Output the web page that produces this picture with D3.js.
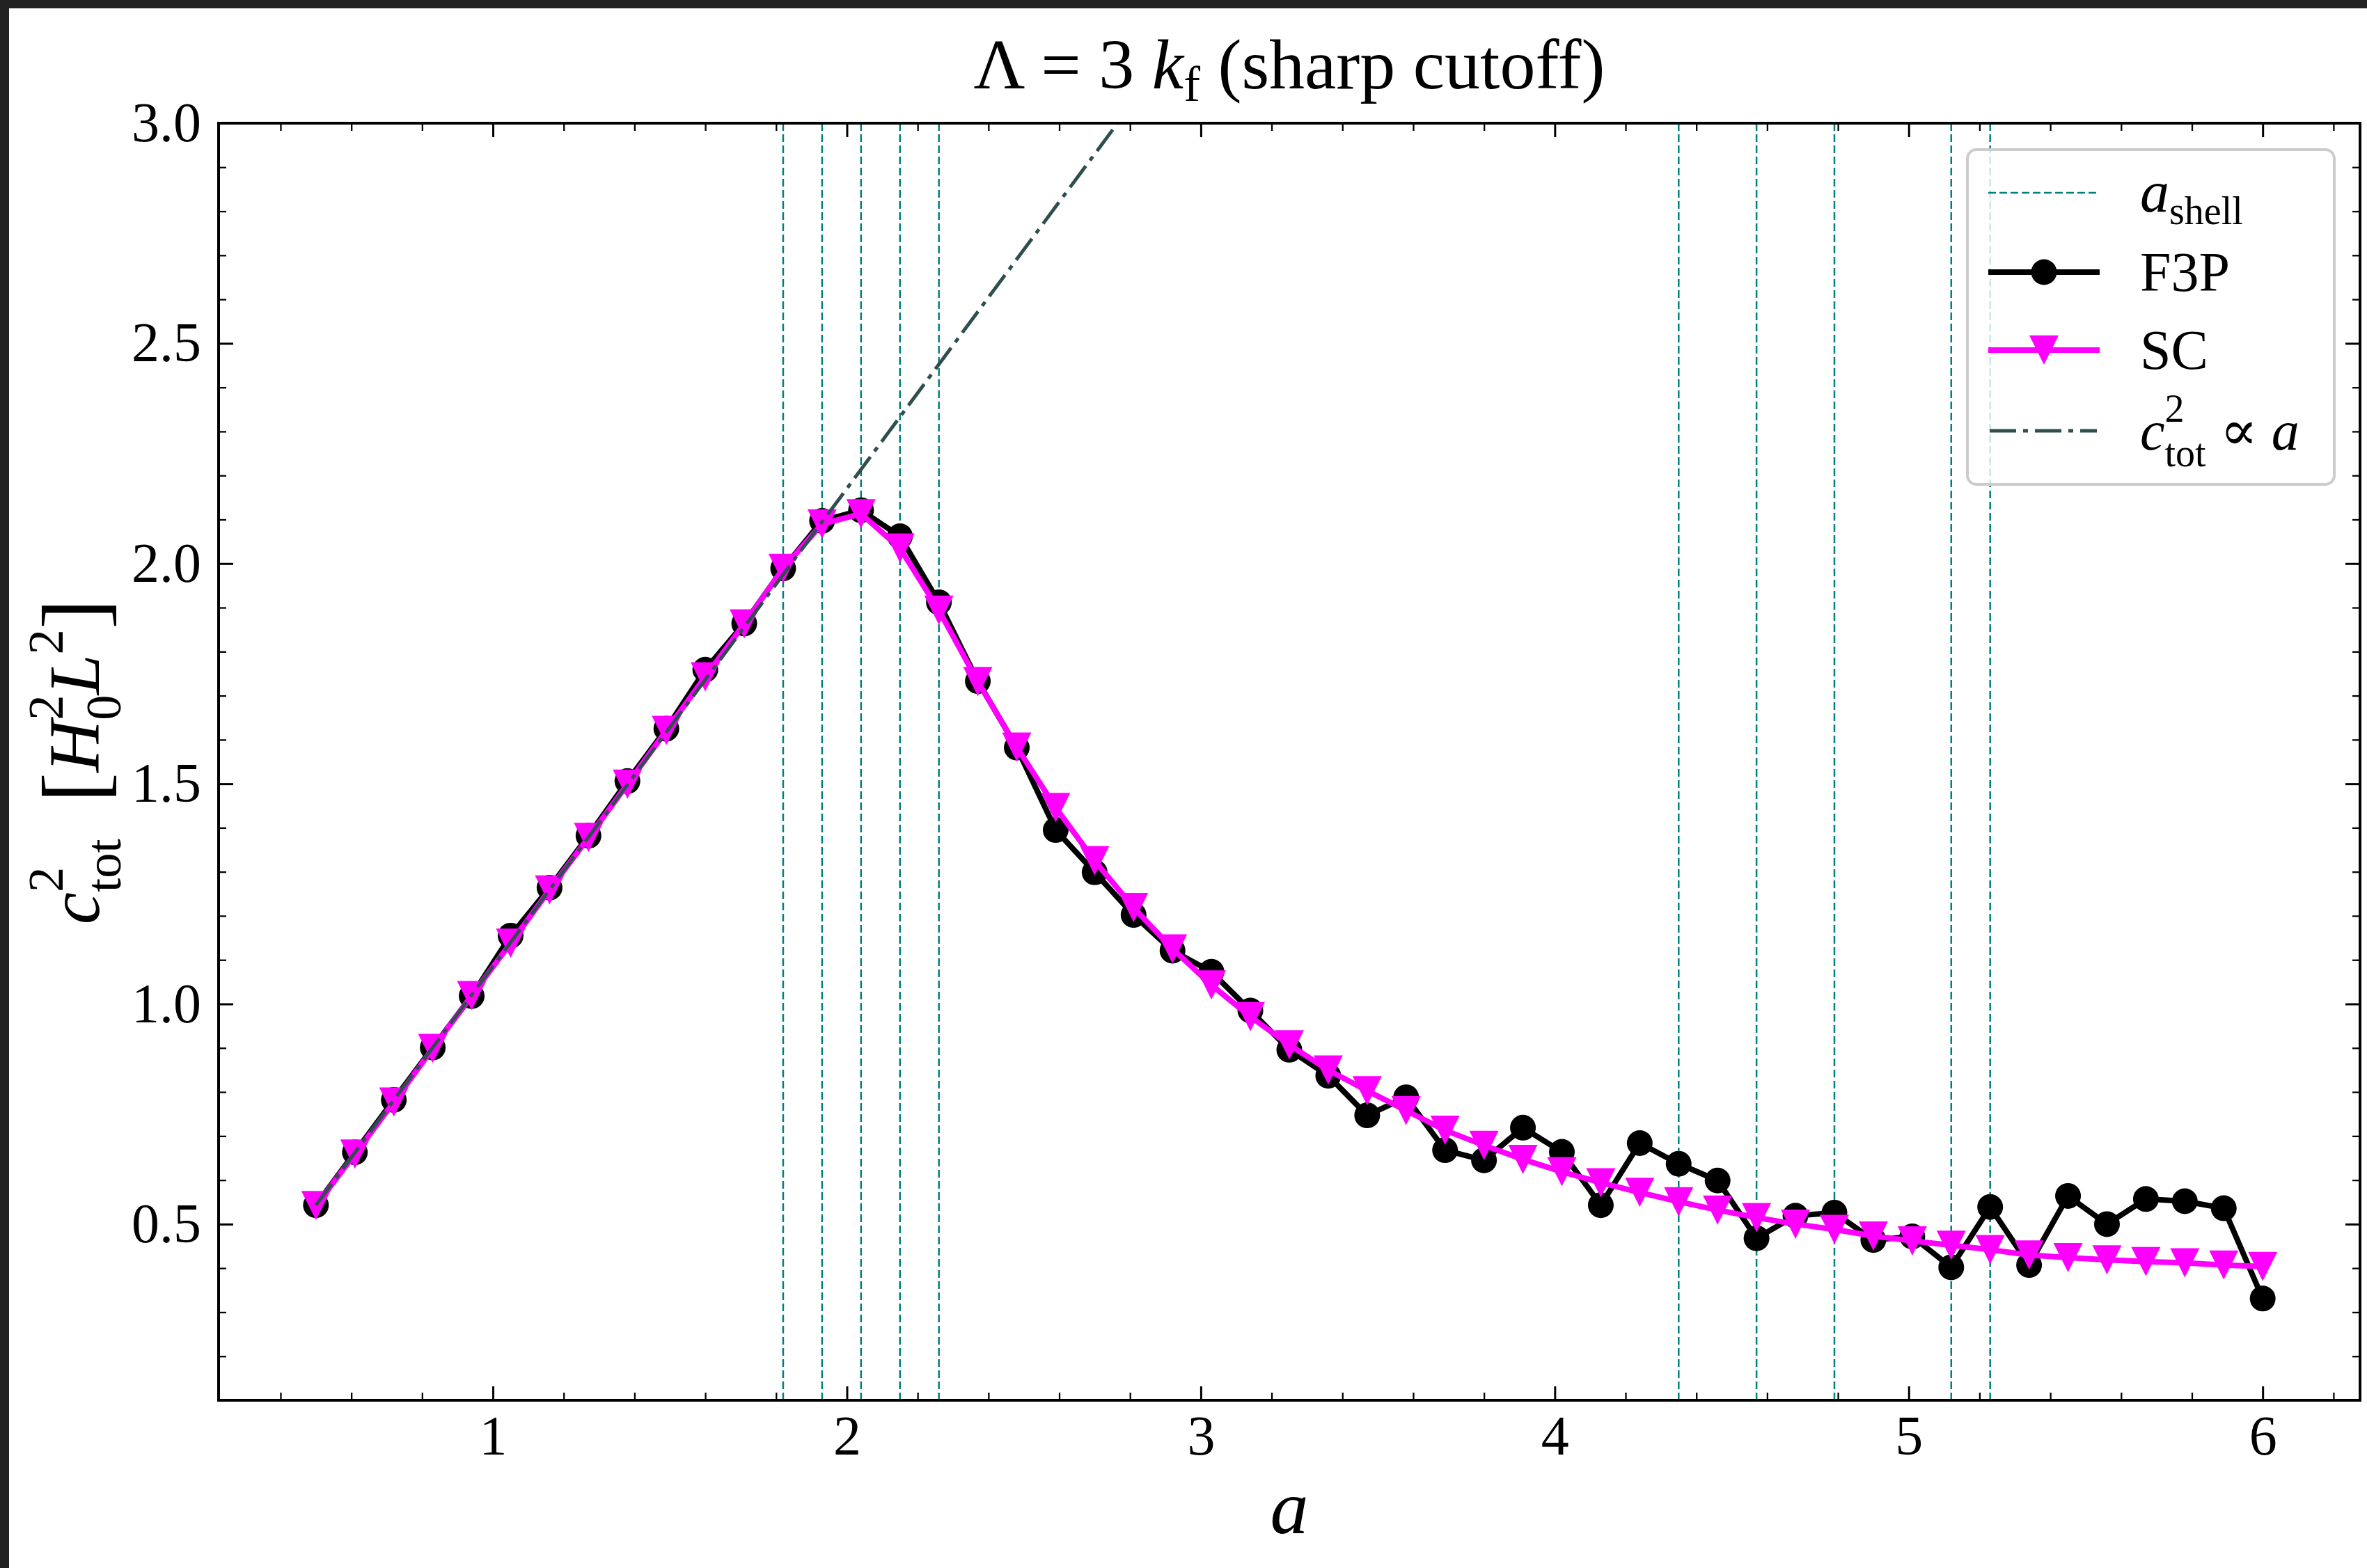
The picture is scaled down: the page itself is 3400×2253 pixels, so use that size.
<!DOCTYPE html>
<html>
<head>
<meta charset="utf-8">
<script src="https://cdn.jsdelivr.net/npm/d3@7"></script>
<style>
    html, body { margin: 0; padding: 0; background: #fff; }
    svg text { font-family: "Liberation Serif", "DejaVu Serif", serif; white-space: pre; fill: #000; }
</style>
</head>
<body>
<div id="chart"></div>
<script>
'use strict';

// Scale factor a (x values)
const scaleFactor = [0.50, 0.61, 0.72, 0.83, 0.94, 1.05, 1.16, 1.27, 1.38, 1.49,
    1.60, 1.71, 1.82, 1.93, 2.04, 2.15, 2.26, 2.37, 2.48, 2.59,
    2.70, 2.81, 2.92, 3.03, 3.14, 3.25, 3.36, 3.47, 3.58, 3.69,
    3.80, 3.91, 4.02, 4.13, 4.24, 4.35, 4.46, 4.57, 4.68, 4.79,
    4.90, 5.01, 5.12, 5.23, 5.34, 5.45, 5.56, 5.67, 5.78, 5.89, 6.00];

// c_tot^2 for F3P
const f3pValues = [0.543, 0.663, 0.782, 0.901, 1.018, 1.155, 1.264, 1.382, 1.506, 1.625,
    1.759, 1.864, 1.989, 2.097, 2.121, 2.062, 1.912, 1.733, 1.582, 1.395,
    1.299, 1.202, 1.121, 1.073, 0.985, 0.896, 0.837, 0.747, 0.788, 0.668,
    0.645, 0.719, 0.664, 0.543, 0.684, 0.637, 0.599, 0.468, 0.519, 0.526,
    0.464, 0.472, 0.402, 0.539, 0.407, 0.564, 0.500, 0.557, 0.552, 0.536, 0.331];

// c_tot^2 for SC
const scValues = [0.542, 0.659, 0.777, 0.899, 1.019, 1.138, 1.259, 1.378, 1.499, 1.621,
    1.743, 1.863, 1.989, 2.090, 2.113, 2.035, 1.894, 1.732, 1.583, 1.446,
    1.325, 1.219, 1.125, 1.043, 0.971, 0.907, 0.850, 0.803, 0.758, 0.713,
    0.679, 0.647, 0.619, 0.594, 0.572, 0.551, 0.532, 0.515, 0.500, 0.488,
    0.473, 0.462, 0.452, 0.442, 0.430, 0.424, 0.419, 0.415, 0.412, 0.407, 0.404];

// Shell crossings
const aShell = [1.82, 1.93, 2.04, 2.15, 2.26, 4.35, 4.57, 4.79, 5.12, 5.23];

// c_tot^2 ∝ a reference line (two points)
const fitA = [0.5, 6.0];
const fitC = [0.543, 6.51];

// Ticks
const xTicks = [1, 2, 3, 4, 5, 6];
const xTickLabels = ['1', '2', '3', '4', '5', '6'];
const yTicks = [0.5, 1.0, 1.5, 2.0, 2.5, 3.0];
const yTickLabels = ['0.5', '1.0', '1.5', '2.0', '2.5', '3.0'];

// One text element built from tspans (italic, sub, sup, stacked sub under sup)
function mathText(sel, pieces, fs, anchor) {
    const t = sel.append('text')
        .attr('text-anchor', anchor === 'middle' ? 'middle' : 'start');
    let curDy = 0;
    let prevW = 0;
    pieces.forEach(p => {
        const size = p.pos ? fs * 0.7 : fs * (p.scale || 1);
        let target = 0;
        if (p.pos === 'sup') target = -0.5 * fs;
        if (p.pos === 'sub') target = 0.3 * fs;
        target += (p.dy || 0) * fs;
        const ts = t.append('tspan')
            .attr('dy', target - curDy)
            .style('font-size', `${size}px`)
            .style('font-style', p.it ? 'italic' : 'normal')
            .text(p.t);
        if (p.stack) ts.attr('dx', -prevW);
        curDy = target;
        prevW = ts.node().getComputedTextLength();
    });
    return t;
}

class CtotChart {

    constructor(_parent) {
        this.parent = _parent;
        this.initVis();
    }

    initVis() {
        const vis = this;

        // Config
        vis.w = 3400;
        vis.h = 2253;

        vis.svg = d3.select(`#${vis.parent}`)
            .append('svg')
            .attr('width', vis.w)
            .attr('height', vis.h);

        vis.svg.append('rect')
            .attr('width', vis.w)
            .attr('height', vis.h)
            .attr('fill', '#fff');

        // Dark screenshot edge
        vis.svg.append('rect').attr('width', vis.w).attr('height', 12).attr('fill', '#222');
        vis.svg.append('rect').attr('width', 13).attr('height', vis.h).attr('fill', '#222');

        // Config g
        vis.margin = {top: 177, right: 10, bottom: 241, left: 314};
        vis.gW = vis.w - (vis.margin.left + vis.margin.right);
        vis.gH = vis.h - (vis.margin.top + vis.margin.bottom);

        vis.g = vis.svg.append('g')
            .attr('transform', `translate(${vis.margin.left},${vis.margin.top})`);

        // Scales (matplotlib 5% x margins)
        const span = scaleFactor[scaleFactor.length - 1] - scaleFactor[0];
        vis.xScale = d3.scaleLinear()
            .domain([scaleFactor[0] - 0.05 * span, scaleFactor[scaleFactor.length - 1] + 0.05 * span])
            .range([0, vis.gW]);
        vis.yScale = d3.scaleLinear()
            .domain([0.1, 3.0])
            .range([vis.gH, 0]);

        // Clip
        vis.svg.append('defs').append('clipPath')
            .attr('id', 'plotClip')
            .append('rect')
            .attr('width', vis.gW)
            .attr('height', vis.gH);

        vis.plotG = vis.g.append('g').attr('clip-path', 'url(#plotClip)');
        vis.axisG = vis.g.append('g');

        vis.updateVis();
    }

    updateVis() {
        const vis = this;
        const x = vis.xScale;
        const y = vis.yScale;

        // Shell lines
        vis.plotG.selectAll('.shell')
            .data(aShell)
            .join('line')
            .attr('class', 'shell')
            .attr('x1', d => x(d)).attr('x2', d => x(d))
            .attr('y1', 0).attr('y2', vis.gH)
            .attr('stroke', '#008080')
            .attr('stroke-width', 2.5)
            .attr('stroke-dasharray', '11,5');

        const lineMaker = vals => d3.line()
            .x((d, i) => x(scaleFactor[i]))
            .y(d => y(d))(vals);

        // F3P
        vis.plotG.append('path')
            .attr('d', lineMaker(f3pValues))
            .attr('fill', 'none')
            .attr('stroke', '#000')
            .attr('stroke-width', 8)
            .attr('stroke-linejoin', 'round');
        vis.plotG.selectAll('.f3p')
            .data(f3pValues)
            .join('circle')
            .attr('class', 'f3p')
            .attr('cx', (d, i) => x(scaleFactor[i]))
            .attr('cy', d => y(d))
            .attr('r', 18.5)
            .attr('fill', '#000');

        // SC
        vis.tri = 'M-21,-21L21,-21L0,21Z';
        vis.plotG.append('path')
            .attr('d', lineMaker(scValues))
            .attr('fill', 'none')
            .attr('stroke', '#ff00ff')
            .attr('stroke-width', 8)
            .attr('stroke-linejoin', 'round');
        vis.plotG.selectAll('.sc')
            .data(scValues)
            .join('path')
            .attr('class', 'sc')
            .attr('d', vis.tri)
            .attr('transform', (d, i) => `translate(${x(scaleFactor[i])},${y(d)})`)
            .attr('fill', '#ff00ff');

        // c^2 ∝ a
        vis.plotG.append('line')
            .attr('x1', x(fitA[0])).attr('y1', y(fitC[0]))
            .attr('x2', x(fitA[1])).attr('y2', y(fitC[1]))
            .attr('stroke', '#2f4f4f')
            .attr('stroke-width', 5)
            .attr('stroke-dasharray', '38,10,7,10');

        // Axes
        const minorX = d3.range(0.4, 6.21, 0.2).filter(v => Math.abs(v - Math.round(v)) > 0.01);
        const minorY = d3.range(0.2, 2.95, 0.1).filter(v => Math.abs(v * 2 - Math.round(v * 2)) > 0.01);

        const styleAxis = (sel, w) => {
            sel.select('.domain').remove();
            sel.selectAll('line').attr('stroke', '#000').attr('stroke-width', w);
            sel.selectAll('text')
                .style('font-size', '80px')
                .style('font-family', '"Liberation Serif", "DejaVu Serif", serif')
                .attr('fill', '#000');
        };

        vis.axisG.append('g')
            .attr('transform', `translate(0,${vis.gH})`)
            .call(d3.axisBottom(x).tickValues(xTicks).tickSize(-20).tickPadding(21)
                .tickFormat((d, i) => xTickLabels[i]))
            .call(s => styleAxis(s, 3));
        vis.axisG.append('g')
            .attr('transform', `translate(0,${vis.gH})`)
            .call(d3.axisBottom(x).tickValues(minorX).tickSize(-11).tickFormat(''))
            .call(s => styleAxis(s, 2.3));
        vis.axisG.append('g')
            .call(d3.axisTop(x).tickValues(xTicks).tickSize(-20).tickFormat(''))
            .call(s => styleAxis(s, 3));
        vis.axisG.append('g')
            .call(d3.axisTop(x).tickValues(minorX).tickSize(-11).tickFormat(''))
            .call(s => styleAxis(s, 2.3));

        vis.axisG.append('g')
            .call(d3.axisLeft(y).tickValues(yTicks).tickSize(-21).tickPadding(25)
                .tickFormat((d, i) => yTickLabels[i]))
            .call(s => styleAxis(s, 3));
        vis.axisG.append('g')
            .call(d3.axisLeft(y).tickValues(minorY).tickSize(-11).tickFormat(''))
            .call(s => styleAxis(s, 2.3));
        vis.axisG.append('g')
            .attr('transform', `translate(${vis.gW},0)`)
            .call(d3.axisRight(y).tickValues(yTicks).tickSize(-21).tickFormat(''))
            .call(s => styleAxis(s, 3));
        vis.axisG.append('g')
            .attr('transform', `translate(${vis.gW},0)`)
            .call(d3.axisRight(y).tickValues(minorY).tickSize(-11).tickFormat(''))
            .call(s => styleAxis(s, 2.3));

        // Frame
        vis.axisG.append('rect')
            .attr('width', vis.gW)
            .attr('height', vis.gH)
            .attr('fill', 'none')
            .attr('stroke', '#000')
            .attr('stroke-width', 4);

        // Title
        const titleG = vis.g.append('g')
            .attr('transform', `translate(${vis.gW / 2},-50)`);
        mathText(titleG, [
            {t: 'Λ = 3 '},
            {t: 'k', it: true},
            {t: 'f', pos: 'sub', dy: -0.12},
            {t: ' (sharp cutoff)', dy: 0}
        ], 102, 'middle');

        // x label
        const xLabG = vis.g.append('g')
            .attr('transform', `translate(${vis.gW / 2},${vis.gH + 191})`);
        mathText(xLabG, [{t: 'a', it: true}], 110, 'middle');

        // y label
        const yLabG = vis.svg.append('g')
            .attr('transform', `translate(142,${vis.margin.top + vis.gH / 2}) rotate(-90)`);
        mathText(yLabG, [
            {t: 'c', it: true},
            {t: '2', pos: 'sup'},
            {t: 'tot', pos: 'sub', stack: true},
            {t: '  '},
            {t: '[', scale: 1.25, dy: 0.08},
            {t: 'H', it: true},
            {t: '2', pos: 'sup'},
            {t: '0', pos: 'sub', stack: true},
            {t: 'L', it: true},
            {t: '2', pos: 'sup'},
            {t: ']', scale: 1.25, dy: 0.08}
        ], 104, 'middle');

        // Legend
        const lx = vis.gW - 564;
        const ly = 38;
        const legG = vis.g.append('g').attr('transform', `translate(${lx},${ly})`);
        legG.append('rect')
            .attr('width', 527)
            .attr('height', 481)
            .attr('rx', 13)
            .attr('fill', '#fff')
            .attr('fill-opacity', 0.8)
            .attr('stroke', '#cccccc')
            .attr('stroke-width', 4);

        const rows = [62, 176, 288, 404];
        const hx0 = 30;
        const hx1 = 190;
        const tx = 248;

        legG.append('line')
            .attr('x1', hx0).attr('x2', hx1 - 4).attr('y1', rows[0]).attr('y2', rows[0])
            .attr('stroke', '#008080').attr('stroke-width', 2.5).attr('stroke-dasharray', '11,5');

        legG.append('line')
            .attr('x1', hx0).attr('x2', hx1).attr('y1', rows[1]).attr('y2', rows[1])
            .attr('stroke', '#000').attr('stroke-width', 8);
        legG.append('circle')
            .attr('cx', (hx0 + hx1) / 2).attr('cy', rows[1]).attr('r', 18.5).attr('fill', '#000');

        legG.append('line')
            .attr('x1', hx0).attr('x2', hx1).attr('y1', rows[2]).attr('y2', rows[2])
            .attr('stroke', '#ff00ff').attr('stroke-width', 8);
        legG.append('path')
            .attr('d', vis.tri)
            .attr('transform', `translate(${(hx0 + hx1) / 2},${rows[2]})`)
            .attr('fill', '#ff00ff');

        legG.append('line')
            .attr('x1', hx0 + 2).attr('x2', hx1 - 4).attr('y1', rows[3]).attr('y2', rows[3])
            .attr('stroke', '#2f4f4f').attr('stroke-width', 5).attr('stroke-dasharray', '38,10,7,10');

        const legFs = 80;
        const labels = [
            [{t: 'a', it: true, scale: 1.05}, {t: 'shell', pos: 'sub', dy: -0.08}],
            [{t: 'F3P'}],
            [{t: 'SC'}],
            [{t: 'c', it: true}, {t: '2', pos: 'sup'}, {t: 'tot', pos: 'sub', stack: true},
                {t: ' ∝ '}, {t: 'a', it: true}]
        ];
        labels.forEach((pieces, i) => {
            const rg = legG.append('g').attr('transform', `translate(${tx},${rows[i] + 27})`);
            mathText(rg, pieces, legFs, 'start');
        });
    }
}

new CtotChart('chart');
</script>
</body>
</html>
